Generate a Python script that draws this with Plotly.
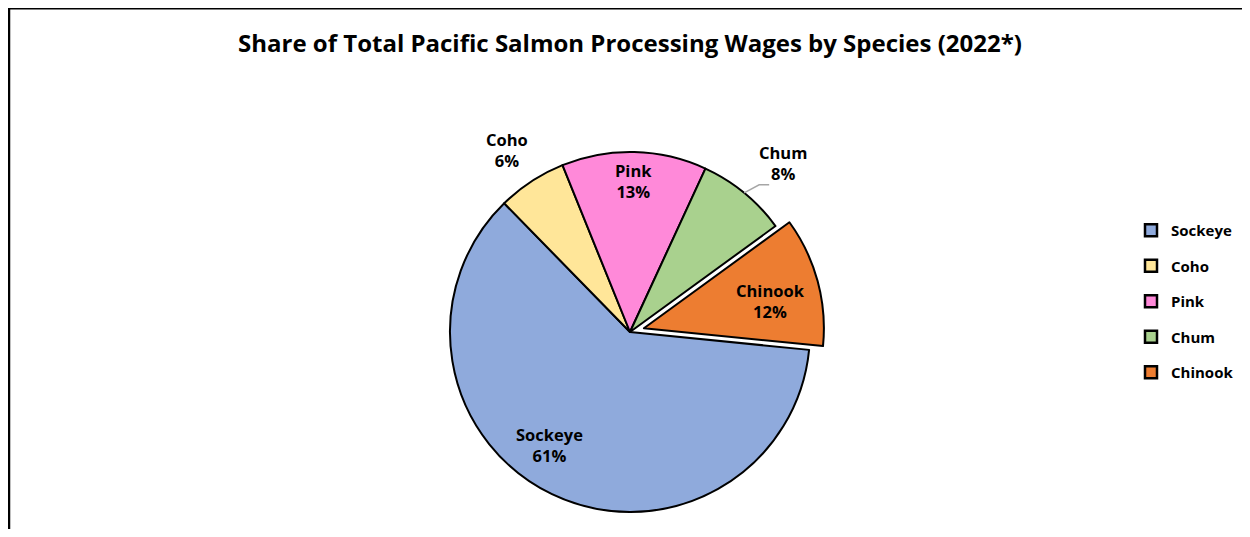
import math
import plotly.graph_objects as go

species = ["Sockeye", "Coho", "Pink", "Chum", "Chinook"]
shares = [61.1, 6.2, 13.0, 8.1, 11.6]
pct_labels = ["61%", "6%", "13%", "8%", "12%"]
colors = ["#8FAADC", "#FFE699", "#FF89D9", "#A9D18E", "#ED7D31"]
pulls = [0, 0, 0, 0, 0.08]

# layout constants (figure pixels; the page adds an 8px body margin)
W, H = 1234, 521
cx, cy = 622, 324          # pie centre
R = 180                    # pie radius
ROT = 95.7                 # start angle of first slice, clockwise from 12 o'clock
label_r = [0.77, 1.22, 0.84, 1.27, 0.72]
label_dtheta = [9.6, -0.8, -0.2, 2.8, 3.1]

D = 2 * R * (1 + max(pulls))
FONT = "Open Sans"


def px(x):
    return x / W


def py(y):
    return 1 - y / H


fig = go.Figure()
fig.add_trace(go.Pie(
    labels=species,
    values=shares,
    sort=False,
    direction="clockwise",
    rotation=ROT,
    pull=pulls,
    marker=dict(colors=colors, line=dict(color="black", width=2)),
    textinfo="none",
    showlegend=False,
    domain=dict(x=[px(cx - D / 2), px(cx + D / 2)],
                y=[py(cy + D / 2), py(cy - D / 2)]),
))

# legend entries
for name, col in zip(species, colors):
    fig.add_trace(go.Scatter(
        x=[None], y=[None], mode="markers", name=name, legendgroup=name,
        marker=dict(symbol="square", size=12, color=col, line=dict(color="black", width=2.5)),
    ))

# slice labels computed from the data
total = sum(shares)
annotations = []
shapes = []
cum = 0.0
for i, (name, v) in enumerate(zip(species, shares)):
    mid = ROT + (cum + v / 2) / total * 360
    cum += v
    a = math.radians(mid)
    ox = cx + pulls[i] * R * math.sin(a)
    oy = cy - pulls[i] * R * math.cos(a)
    b = math.radians(mid + label_dtheta[i])
    lx = ox + label_r[i] * R * math.sin(b)
    ly = oy - label_r[i] * R * math.cos(b)
    annotations.append(dict(
        x=px(lx), y=py(ly), xref="paper", yref="paper",
        text=f"<b>{name}<br>{pct_labels[i]}</b>", showarrow=False,
        xanchor="center", yanchor="middle", align="center",
        font=dict(family=FONT, size=16.5, color="black"),
    ))
    if name == "Chum":
        x0 = cx + R * math.sin(a)
        y0 = cy - R * math.cos(a)
        x1, y1 = x0 + 15, y0 - 8
        x2 = x1 + 10
        shapes.append(dict(
            type="path", xref="paper", yref="paper",
            path=f"M {px(x0)} {py(y0)} L {px(x1)} {py(y1)} L {px(x2)} {py(y1)}",
            line=dict(color="#A6A6A6", width=1.5),
        ))

# frame lines on the top and left edges
shapes += [
    dict(type="line", xref="paper", yref="paper", x0=0, x1=1, y0=py(0), y1=py(0),
         line=dict(color="black", width=3)),
    dict(type="line", xref="paper", yref="paper", x0=px(1), x1=px(1), y0=0, y1=1,
         line=dict(color="black", width=2.5)),
]

fig.update_layout(
    width=W, height=H,
    margin=dict(l=0, r=0, t=0, b=0),
    paper_bgcolor="white",
    plot_bgcolor="white",
    xaxis=dict(visible=False),
    yaxis=dict(visible=False),
    title=dict(text="<b>Share of Total Pacific Salmon Processing Wages by Species (2022*)</b>",
               x=px(622), xanchor="center", y=py(36), yanchor="middle",
               font=dict(family=FONT, size=24, color="black")),
    legend=dict(x=px(1123), y=py(206), xanchor="left", yanchor="top",
                font=dict(family=FONT, size=15, color="black", weight="bold"),
                tracegroupgap=13, bgcolor="rgba(0,0,0,0)"),
    showlegend=True,
    annotations=annotations,
    shapes=shapes,
)

fig.write_html("out.html")
